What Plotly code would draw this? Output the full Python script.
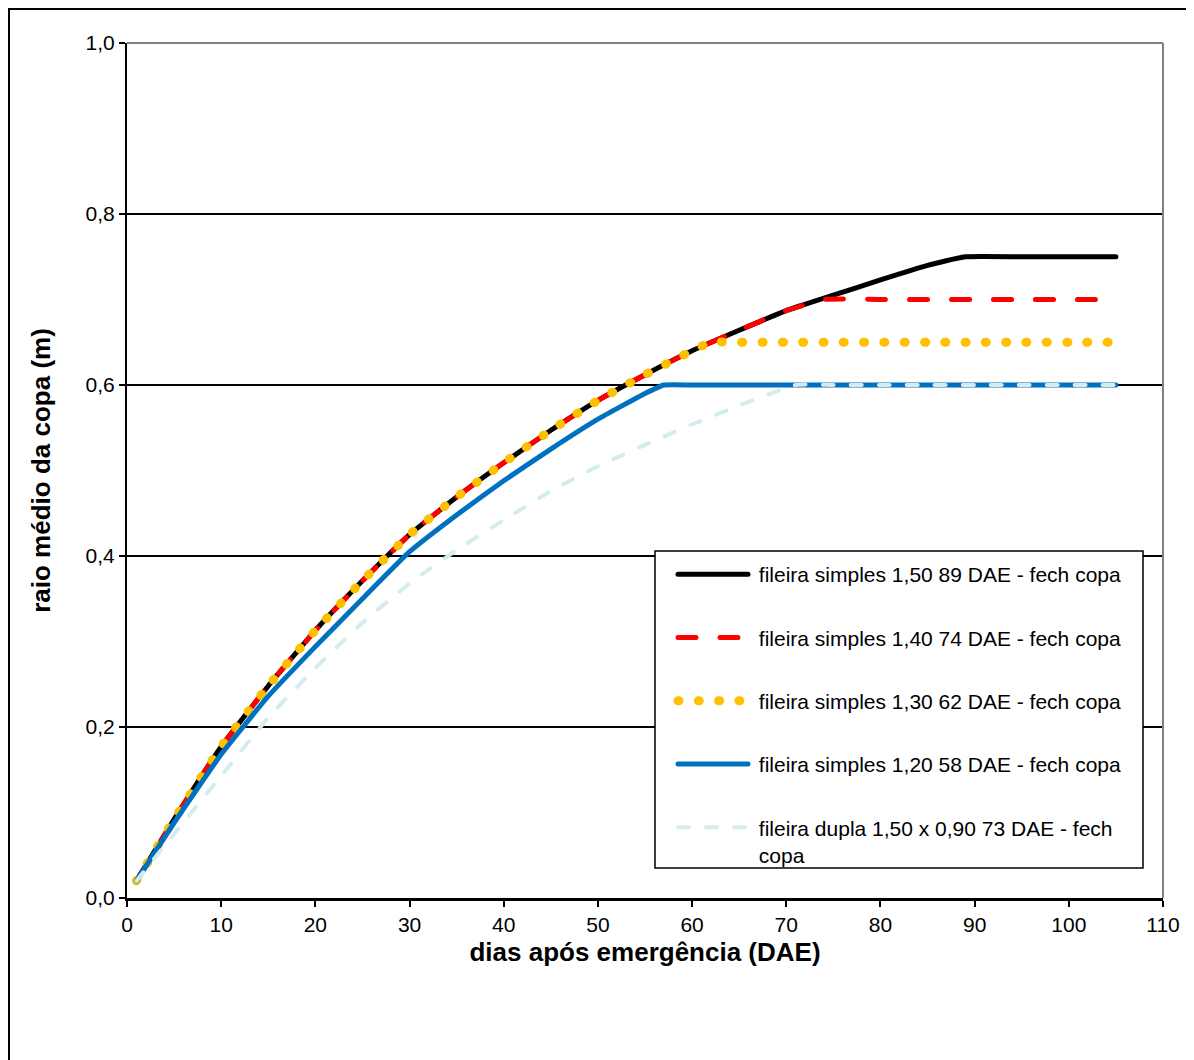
import plotly.graph_objects as go

# ---- data ----
days_black = [1, 5, 10, 15, 20, 25, 30, 35, 40, 45, 50, 55, 60, 65, 70, 75, 80, 85, 89,
              95, 100, 105]
raio_black = [0.020, 0.092, 0.177, 0.248, 0.313, 0.371, 0.425, 0.469, 0.509, 0.547, 0.582,
              0.612, 0.640, 0.664, 0.687, 0.705, 0.723, 0.740, 0.750,
              0.750, 0.750, 0.750]

days_red = [1, 5, 10, 15, 20, 25, 30, 35, 40, 45, 50, 55, 60, 65, 70, 74,
            80, 85, 90, 95, 100, 105]
raio_red = [0.020, 0.092, 0.177, 0.248, 0.313, 0.371, 0.425, 0.469, 0.509, 0.547, 0.582,
            0.612, 0.640, 0.664, 0.687, 0.700,
            0.700, 0.700, 0.700, 0.700, 0.700, 0.700]

days_yellow = [1, 5, 10, 15, 20, 25, 30, 35, 40, 45, 50, 55, 60, 62,
               65, 70, 75, 80, 85, 90, 95, 100, 105]
raio_yellow = [0.020, 0.092, 0.177, 0.248, 0.313, 0.371, 0.425, 0.469, 0.509, 0.547, 0.582,
               0.612, 0.640, 0.650,
               0.650, 0.650, 0.650, 0.650, 0.650, 0.650, 0.650, 0.650, 0.650]

days_blue = [1, 5, 10, 15, 20, 25, 30, 35, 40, 45, 50, 55, 57,
             60, 65, 70, 75, 80, 85, 90, 95, 100, 105]
raio_blue = [0.020, 0.088, 0.168, 0.236, 0.294, 0.350, 0.405, 0.448, 0.488, 0.525, 0.560,
             0.590, 0.600,
             0.600, 0.600, 0.600, 0.600, 0.600, 0.600, 0.600, 0.600, 0.600, 0.600]

days_light = [1, 5, 10, 15, 20, 25, 30, 35, 40, 45, 50, 55, 60, 65, 71,
              75, 80, 85, 90, 95, 100, 105]
raio_light = [0.020, 0.075, 0.143, 0.211, 0.269, 0.322, 0.368, 0.407, 0.442, 0.476, 0.505,
              0.530, 0.554, 0.576, 0.600,
              0.600, 0.600, 0.600, 0.600, 0.600, 0.600, 0.600]

names = [
    "fileira simples 1,50 89 DAE - fech copa",
    "fileira simples 1,40 74 DAE - fech copa",
    "fileira simples 1,30 62 DAE - fech copa",
    "fileira simples 1,20 58 DAE - fech copa",
    "fileira dupla 1,50 x 0,90 73 DAE - fech<br>\u00a0copa",
]

x_ticks = list(range(0, 111, 10))
y_ticks = [0.0, 0.2, 0.4, 0.6, 0.8, 1.0]

FONT = "Liberation Sans, Arial, sans-serif"

fig = go.Figure()
series = [
    (days_black, raio_black, dict(color="#000000", width=5, dash="solid")),
    (days_red, raio_red, dict(color="#FF0000", width=5, dash="18px,24px")),
    (days_yellow, raio_yellow, dict(color="#FFC000", width=9, dash="1px,19.3px")),
    (days_blue, raio_blue, dict(color="#0070C0", width=5, dash="solid")),
    (days_light, raio_light, dict(color="#D5ECEF", width=4, dash="11px,17px")),
]
for i, (xs, ys, ln) in enumerate(series):
    ln = dict(ln, shape="spline", smoothing=0.4)
    fig.add_trace(go.Scatter(x=xs, y=ys, mode="lines", name="\u00a0" + names[i], line=ln,
                             legendgroup=f"g{i}", hoverinfo="skip"))

W, H = 1194, 1060
L, R, T, B = 119, 39, 35, 170
pw, ph = W - L - R, H - T - B
bottom = H - B  # plot-area bottom in figure px


def px_x(fx):
    return (fx - L) / pw


def px_y(fy):
    return (bottom - fy) / ph


fig.update_layout(
    width=W, height=H,
    margin=dict(l=L, r=R, t=T, b=B, autoexpand=False),
    paper_bgcolor="white", plot_bgcolor="white",
    separators=",.",
    font=dict(family=FONT, size=21, color="#000000"),
    showlegend=True,
    legend=dict(
        x=px_x(665), y=px_y(546), xanchor="left", yanchor="top",
        bgcolor="rgba(0,0,0,0)", borderwidth=0,
        font=dict(family=FONT, size=21, color="#000000"),
        tracegroupgap=33, itemwidth=70, valign="top",
        traceorder="grouped",
    ),
    xaxis=dict(
        range=[0, 110], tickvals=x_ticks, ticktext=[str(v) for v in x_ticks],
        showgrid=False, zeroline=False,
        showline=True, linecolor="#000000", linewidth=2.5,
        ticks="outside", ticklen=6, tickwidth=1.5, tickcolor="#000000",
        tickfont=dict(family=FONT, size=21),
        title=dict(text="<b>dias após emergência (DAE)</b>",
                   font=dict(family=FONT, size=26), standoff=8),
    ),
    yaxis=dict(
        range=[0, 1.0], tickvals=y_ticks, tickformat=".1f",
        showgrid=True, gridcolor="#000000", gridwidth=1.5,
        zeroline=False,
        showline=True, linecolor="#000000", linewidth=2,
        ticks="outside", ticklen=6, tickwidth=1.5, tickcolor="#000000",
        tickfont=dict(family=FONT, size=21),
        title=dict(text="<b>raio médio da copa (m)</b>",
                   font=dict(family=FONT, size=26), standoff=27),
    ),
)

# gray plot-area border on top and right, outer chart frame, legend frame
fig.add_shape(type="line", xref="paper", yref="paper", x0=0, x1=1, y0=1, y1=1,
              line=dict(color="#808080", width=2), layer="above")
fig.add_shape(type="line", xref="paper", yref="paper", x0=1, x1=1, y0=0, y1=1,
              line=dict(color="#808080", width=2), layer="above")
fig.add_shape(type="rect", xref="paper", yref="paper",
              x0=px_x(1), x1=px_x(W + 4), y0=px_y(H + 4), y1=px_y(1),
              line=dict(color="#000000", width=2), fillcolor="rgba(0,0,0,0)", layer="below")
fig.add_shape(type="rect", xref="paper", yref="paper",
              x0=px_x(647), x1=px_x(1135), y0=px_y(860), y1=px_y(543),
              line=dict(color="#000000", width=1.5), fillcolor="white", layer="above")

post = """
var gd = document.getElementById('{plot_id}');
function rc(){ gd.querySelectorAll('path.js-line').forEach(function(p){p.style.strokeLinecap='round';}); }
rc();
gd.on('plotly_afterplot', rc);
"""

fig.write_html("out.html", post_script=post)
